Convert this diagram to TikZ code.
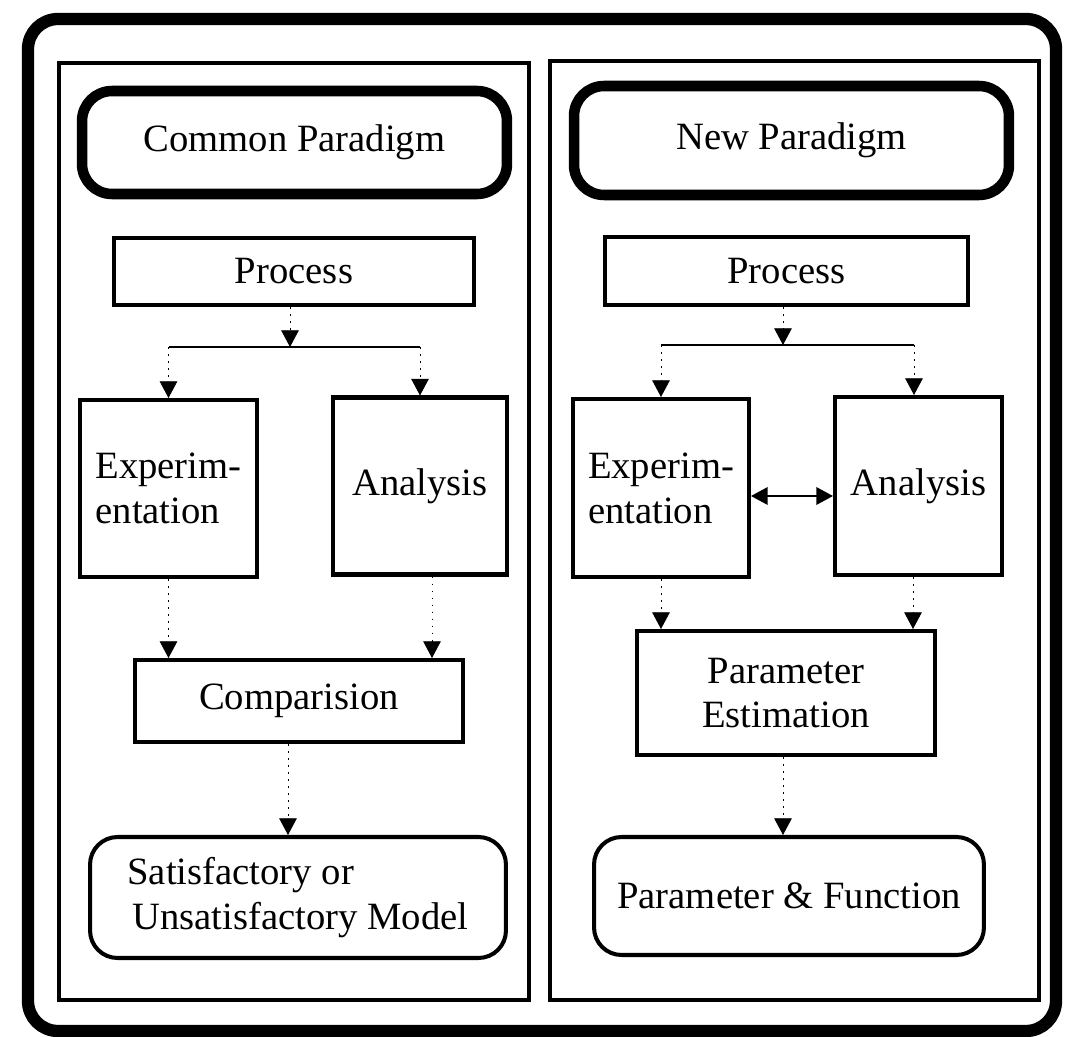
\documentclass[tikz,border=0pt]{standalone}
\usepackage{fontspec}
\setmainfont{Liberation Serif}
\usetikzlibrary{arrows.meta}
\begin{document}
\begin{tikzpicture}[x=0.02cm,y=-0.02cm,
  txt/.style={font=\fontsize{22}{25.5}\selectfont, align=center, inner sep=0pt},
  box/.style={draw, line width=2.3pt, txt},
  rbox/.style={box, rounded corners=0.55cm},
  para/.style={draw, line width=6pt, rounded corners=0.6cm, txt},
  panel/.style={draw, line width=2pt, inner sep=0pt},
  bus/.style={line width=1pt},
  stem/.style={line width=0.5pt, dash pattern=on 1pt off 3pt},
  tip/.style={-{Triangle[width=10pt,length=9.5pt]}}
]
\useasboundingbox (0,0) rectangle (1066,1037);

% outer frame
\draw[line width=7pt, rounded corners=0.6cm] (28,19) rectangle (1056,1031);

% panels
\node[panel, minimum width=9.4cm, minimum height=18.74cm] (lpanel) at (294,531.5) {};
\node[panel, minimum width=9.78cm, minimum height=18.78cm] (rpanel) at (794.5,530.5) {};

% left column
\node[para, minimum width=8.5cm, minimum height=2.06cm] (lpar) at (294.5,142.5) {Common Paradigm};
\node[box, minimum width=7.2cm, minimum height=1.34cm] (lproc) at (294,271.5) {Process};
\node[box, minimum width=3.54cm, minimum height=3.54cm, align=left] (lexp) at (168.5,488.5) {Experim-\\entation};
\node[box, minimum width=3.48cm, minimum height=3.54cm] (lana) at (420,486) {Analysis};
\node[box, minimum width=6.56cm, minimum height=1.64cm] (lcmp) at (299,701) {Comparision};
\node[rbox, minimum width=8.32cm, minimum height=2.42cm, align=left] (lsat) at (298,897.5) {Satisfactory or\\\hspace*{0.1cm}Unsatisfactory Model};

% right column
\node[para, minimum width=8.7cm, minimum height=2.18cm] (rpar) at (791.5,140.5) {New Paradigm};
\node[box, minimum width=7.26cm, minimum height=1.36cm] (rproc) at (786.5,271) {Process};
\node[box, minimum width=3.52cm, minimum height=3.56cm, align=left] (rexp) at (661,488) {Experim-\\entation};
\node[box, minimum width=3.34cm, minimum height=3.56cm] (rana) at (918.5,486) {Analysis};
\node[box, minimum width=5.96cm, minimum height=2.48cm] (rpe) at (786,693) {Parameter\\Estimation};
\node[rbox, minimum width=7.8cm, minimum height=2.36cm] (rpf) at (789,896) {Parameter \& Function};

% junction coordinates
\coordinate (lbl) at (168.5,347);
\coordinate (lbr) at (420,347);
\coordinate (lbm) at (290,347);
\coordinate (lx2) at (432,0);
\coordinate (lx3) at (288,0);
\coordinate (rbl) at (661,345);
\coordinate (rbr) at (914,345);
\coordinate (rbm) at (783,345);
\coordinate (rx2) at (913,0);
\coordinate (rx3) at (783,0);

% left connectors
\draw[stem, tip] (lproc.south -| lbm) -- (lbm);
\draw[bus] (lbl) -- (lbr);
\draw[stem, tip] (lbl) -- (lexp.north);
\draw[stem, tip] (lbr) -- (lana.north);
\draw[stem, tip] (lexp.south) -- (lexp.south |- lcmp.north);
\draw[stem, tip] (lana.south -| lx2) -- (lcmp.north -| lx2);
\draw[stem, tip] (lcmp.south -| lx3) -- (lsat.north -| lx3);

% right connectors
\draw[stem, tip] (rproc.south -| rbm) -- (rbm);
\draw[bus] (rbl) -- (rbr);
\draw[stem, tip] (rbl) -- (rexp.north);
\draw[stem, tip] (rbr) -- (rbr |- rana.north);
\draw[bus, {Triangle[width=10pt,length=9.5pt]}-{Triangle[width=10pt,length=9.5pt]}] ([yshift=-0.16cm]rexp.east) -- ([yshift=-0.16cm]rexp.east -| rana.west);
\draw[stem, tip] (rexp.south) -- (rexp.south |- rpe.north);
\draw[stem, tip] (rana.south -| rx2) -- (rpe.north -| rx2);
\draw[stem, tip] (rpe.south -| rx3) -- (rpf.north -| rx3);
\end{tikzpicture}
\end{document}
